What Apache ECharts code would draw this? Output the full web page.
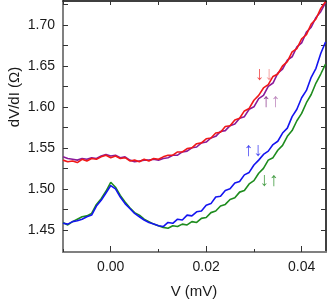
<!DOCTYPE html>
<html>
<head>
<meta charset="utf-8">
<script src="https://cdn.jsdelivr.net/npm/echarts@6/dist/echarts.min.js"></script>
<style>html,body{margin:0;padding:0;background:#fff;}#c{width:327px;height:300px;}</style>
</head>
<body>
<div id="c"></div>
<script>
// Bias voltage (mV)
var V = [-0.010,-0.009,-0.008,-0.007,-0.006,-0.005,-0.004,-0.003,-0.002,-0.001,
  0.000,0.001,0.002,0.003,0.004,0.005,0.006,0.007,0.008,0.009,
  0.010,0.011,0.012,0.013,0.014,0.015,0.016,0.017,0.018,0.019,
  0.020,0.021,0.022,0.023,0.024,0.025,0.026,0.027,0.028,0.029,
  0.030,0.031,0.032,0.033,0.034,0.035,0.036,0.037,0.038,0.039,
  0.040,0.041,0.042,0.043,0.044,0.045];

var redDownDown = [1.535,1.533,1.534,1.532,1.536,1.534,1.537,1.536,1.539,1.541,
  1.538,1.540,1.537,1.538,1.534,1.535,1.533,1.536,1.534,1.537,
  1.536,1.539,1.541,1.541,1.545,1.545,1.549,1.550,1.555,1.556,
  1.561,1.562,1.568,1.569,1.576,1.577,1.584,1.586,1.595,1.598,
  1.608,1.614,1.623,1.627,1.637,1.640,1.650,1.655,1.667,1.671,
  1.683,1.688,1.701,1.707,1.720,1.728];

var purpleUpUp = [1.539,1.537,1.536,1.535,1.537,1.536,1.538,1.537,1.540,1.542,
  1.540,1.541,1.538,1.539,1.535,1.533,1.534,1.535,1.535,1.536,
  1.535,1.537,1.538,1.541,1.541,1.545,1.546,1.550,1.551,1.556,
  1.557,1.562,1.564,1.570,1.571,1.577,1.579,1.586,1.588,1.597,
  1.600,1.610,1.614,1.625,1.629,1.641,1.646,1.657,1.661,1.673,
  1.678,1.691,1.697,1.709,1.716,1.727];

var blueUpDown = [1.458,1.457,1.460,1.461,1.463,1.466,1.468,1.479,1.486,1.495,
  1.504,1.500,1.490,1.482,1.476,1.470,1.466,1.462,1.459,1.457,
  1.455,1.454,1.459,1.458,1.463,1.462,1.468,1.467,1.472,1.473,
  1.480,1.482,1.490,1.491,1.498,1.500,1.507,1.509,1.517,1.520,
  1.529,1.535,1.542,1.546,1.554,1.558,1.568,1.574,1.588,1.597,
  1.611,1.620,1.636,1.647,1.665,1.679];

var greenDownUp = [1.459,1.456,1.460,1.463,1.466,1.467,1.470,1.481,1.488,1.497,
  1.508,1.502,1.492,1.484,1.477,1.471,1.468,1.463,1.460,1.457,
  1.455,1.453,1.452,1.455,1.454,1.457,1.456,1.460,1.459,1.464,
  1.465,1.471,1.473,1.479,1.481,1.487,1.489,1.496,1.498,1.506,
  1.510,1.519,1.525,1.535,1.538,1.547,1.553,1.564,1.571,1.583,
  1.592,1.605,1.615,1.629,1.640,1.652];

// Tick values
var xMajorTicks = [0.00, 0.02, 0.04];
var xMinorTicks = [-0.01, 0.01, 0.03];
var xTopTicks = [-0.01, 0.00, 0.01, 0.02, 0.03, 0.04];
var yLabelTicks = [1.45, 1.50, 1.55, 1.60, 1.65, 1.70];
var yAllTicks = [1.45, 1.475, 1.50, 1.525, 1.55, 1.575, 1.60, 1.625, 1.65, 1.675, 1.70, 1.725];

// Annotations: [V, dV/dI, first arrow, second arrow, key]
var annotations = [
  [0.0322, 1.639, '↓', '↓', 'red'],
  [0.0336, 1.606, '↑', '↑', 'purple'],
  [0.0299, 1.546, '↑', '↓', 'blue'],
  [0.0332, 1.510, '↓', '↑', 'green']
];

var xTitle = 'V (mV)';
var yTitle = 'dV/dI (Ω)';

var chart = echarts.init(document.getElementById('c'), null, {renderer: 'canvas'});

function pairs(ys) { return V.map(function (v, i) { return [v, ys[i]]; }); }

var AF = 'Liberation Sans';
var AS = 19;
var arrowRich = {
  redA: {color: '#ee1c1c', fontSize: AS, fontFamily: AF},
  redB: {color: '#f28080', fontSize: AS, fontFamily: AF},
  purpleA: {color: '#7a1a7a', fontSize: AS, fontFamily: AF},
  purpleB: {color: '#b070b0', fontSize: AS, fontFamily: AF},
  blueA: {color: '#1c1cf0', fontSize: AS, fontFamily: AF},
  blueB: {color: '#1c1cf0', fontSize: AS, fontFamily: AF},
  greenA: {color: '#1f8a1f', fontSize: AS, fontFamily: AF},
  greenB: {color: '#1f8a1f', fontSize: AS, fontFamily: AF}
};

var common = {type: 'value', min: -0.010, max: 0.0451, splitLine: {show: false}};

chart.setOption({
  animation: false,
  backgroundColor: '#fff',
  grid: {left: 63, right: 1, top: 1, bottom: 48},
  xAxis: [
    Object.assign({}, common, {
      position: 'bottom',
      axisLine: {show: true, onZero: false, lineStyle: {color: '#808080', width: 2}},
      axisTick: {show: true, inside: true, length: 6, customValues: xMajorTicks, lineStyle: {color: '#333', width: 1}},
      axisLabel: {customValues: xMajorTicks, fontSize: 14, color: '#1a1a1a', margin: 8, fontFamily: 'Liberation Sans',
        formatter: function (v) { return v.toFixed(2); }}
    }),
    Object.assign({}, common, {
      position: 'bottom',
      axisLine: {show: false},
      axisTick: {show: true, inside: true, length: 3, customValues: xMinorTicks, lineStyle: {color: '#333', width: 1}},
      axisLabel: {show: false}
    }),
    Object.assign({}, common, {
      position: 'top',
      axisLine: {show: true, onZero: false, lineStyle: {color: '#000', width: 1.5}},
      axisTick: {show: true, inside: true, length: 4, customValues: xTopTicks, lineStyle: {color: '#333', width: 1}},
      axisLabel: {show: false}
    })
  ],
  yAxis: [
    {
      type: 'value', min: 1.423, max: 1.729, position: 'left', splitLine: {show: false},
      axisLine: {show: true, onZero: false, lineStyle: {color: '#808080', width: 2}},
      axisTick: {show: true, inside: true, length: 5, customValues: yAllTicks, lineStyle: {color: '#333', width: 1}},
      axisLabel: {customValues: yLabelTicks, fontSize: 14, color: '#1a1a1a', margin: 8, fontFamily: 'Liberation Sans',
        formatter: function (v) { return v.toFixed(2); }}
    },
    {
      type: 'value', min: 1.423, max: 1.729, position: 'right', splitLine: {show: false},
      axisLine: {show: true, onZero: false, lineStyle: {color: '#000', width: 1.5}},
      axisTick: {show: true, inside: true, length: 5, customValues: yAllTicks, lineStyle: {color: '#333', width: 1}},
      axisLabel: {show: false}
    }
  ],
  graphic: [
    {type: 'text', x: 15, y: 97, rotation: Math.PI / 2,
      style: {text: yTitle, fontSize: 15, fill: '#1a1a1a', fontFamily: 'Liberation Sans', textAlign: 'center', textVerticalAlign: 'middle'}},
    {type: 'text', x: 194, y: 292,
      style: {text: xTitle, fontSize: 15, fill: '#1a1a1a', fontFamily: 'Liberation Sans', textAlign: 'center', textVerticalAlign: 'middle'}}
  ],
  series: [
    {type: 'line', data: pairs(purpleUpUp), showSymbol: false, lineStyle: {color: '#8a1a9a', width: 1.6}, z: 2},
    {type: 'line', data: pairs(redDownDown), showSymbol: false, lineStyle: {color: '#f01818', width: 1.6}, z: 3},
    {type: 'line', data: pairs(greenDownUp), showSymbol: false, lineStyle: {color: '#1e8c1e', width: 1.6}, z: 2},
    {type: 'line', data: pairs(blueUpDown), showSymbol: false, lineStyle: {color: '#1414f0', width: 1.6}, z: 3},
    {
      type: 'scatter', symbolSize: 0, z: 5,
      data: annotations.map(function (a) { return {value: [a[0], a[1]], a: a}; }),
      label: {
        show: true, position: 'inside',
        formatter: function (p) {
          var a = p.data.a;
          return '{' + a[4] + 'A|' + a[2] + '}{' + a[4] + 'B|' + a[3] + '}';
        },
        rich: arrowRich
      }
    }
  ]
});
</script>
</body>
</html>
